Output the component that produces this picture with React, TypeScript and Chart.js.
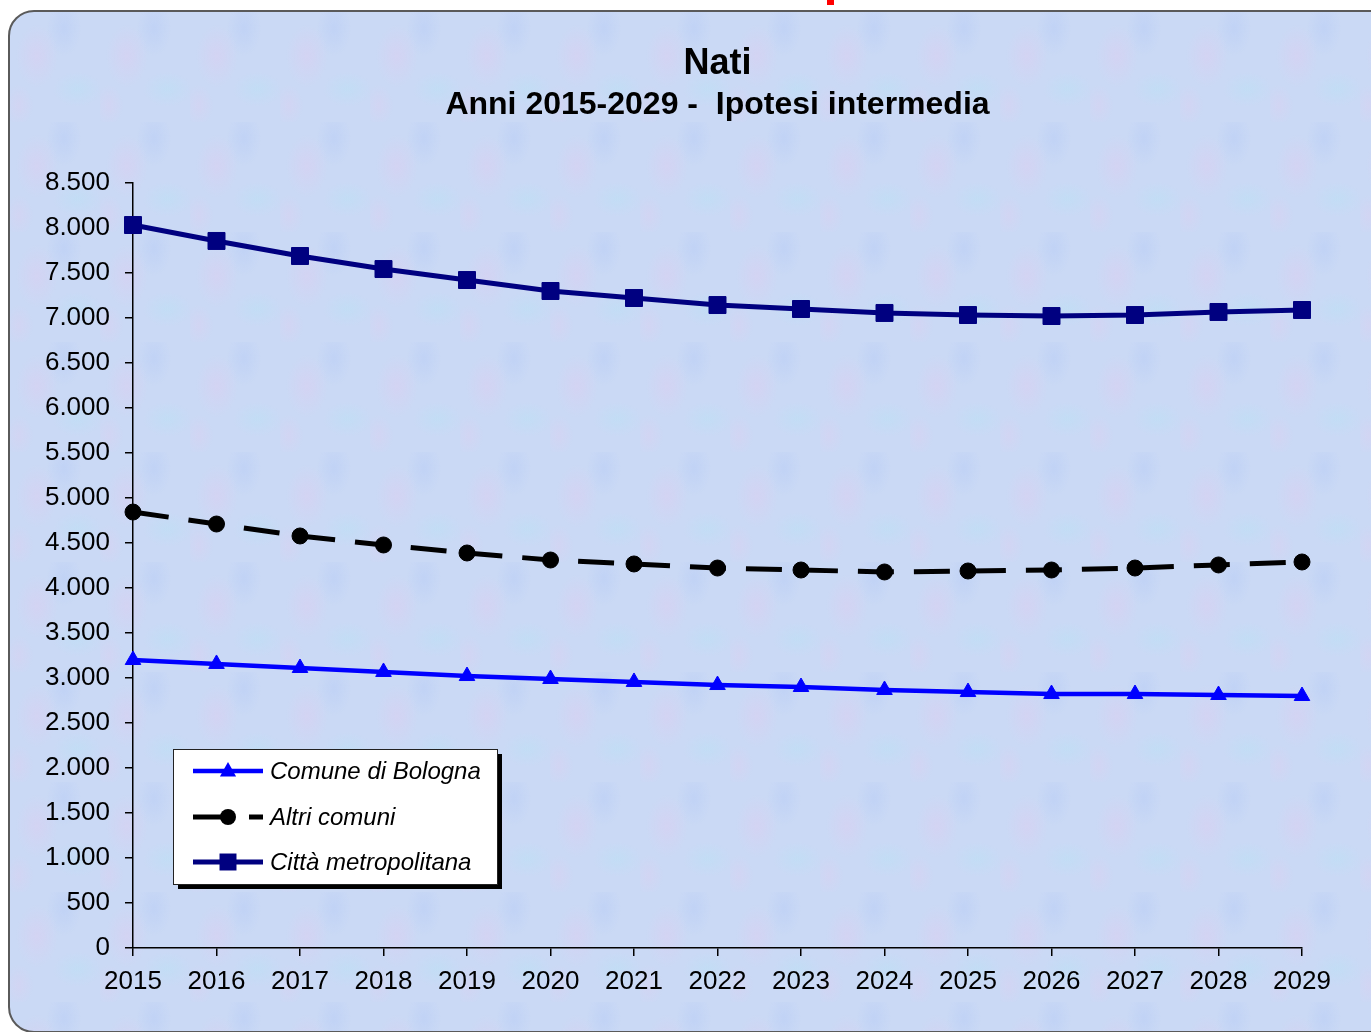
import React, { useEffect, useRef } from "react";
import { Chart, registerables } from "chart.js";

Chart.register(...registerables);

const years = ["2015", "2016", "2017", "2018", "2019", "2020", "2021", "2022", "2023", "2024", "2025", "2026", "2027", "2028", "2029"];
const bologna = [3200, 3156, 3111, 3067, 3022, 2989, 2956, 2922, 2900, 2867, 2844, 2822, 2822, 2811, 2800];
const altriComuni = [4844, 4711, 4578, 4478, 4389, 4311, 4267, 4222, 4200, 4178, 4189, 4200, 4222, 4256, 4289];
const cittaMetropolitana = [8033, 7856, 7689, 7544, 7422, 7300, 7222, 7144, 7100, 7056, 7033, 7022, 7033, 7067, 7089];
const seriesLabels = ["Comune di Bologna", "Altri comuni", "Città metropolitana"];
const titleText = "Nati";
const subtitleText = "Anni 2015-2029 -  Ipotesi intermedia";

const FONT = '"Liberation Sans", Arial, Helvetica, sans-serif';

function fmt(v: number): string {
  return String(Math.round(v)).replace(/\B(?=(\d{3})+(?!\d))/g, ".");
}

const legendPlugin = {
  id: "boxLegend",
  afterDraw(chart: any) {
    const ctx = chart.ctx;
    const x0 = 173, y0 = 749, w = 324, h = 135;
    ctx.save();
    ctx.fillStyle = "#000";
    ctx.fillRect(x0 + 5, y0 + 5, w, h);
    ctx.fillStyle = "#fff";
    ctx.fillRect(x0, y0, w, h);
    ctx.strokeStyle = "#222";
    ctx.lineWidth = 1;
    ctx.strokeRect(x0 + 0.5, y0 + 0.5, w, h);
    const rows = [771, 817, 862];
    chart.data.datasets.forEach((ds: any, i: number) => {
      const y = rows[i];
      ctx.save();
      ctx.strokeStyle = ds.borderColor;
      ctx.lineWidth = ds.borderWidth;
      ctx.setLineDash(ds.borderDash || []);
      ctx.beginPath();
      ctx.moveTo(193, y);
      ctx.lineTo(263, y);
      ctx.stroke();
      ctx.restore();
      ctx.save();
      ctx.fillStyle = ds.pointBackgroundColor;
      const r = ds.pointRadius;
      if (ds.pointStyle === "triangle") {
        ctx.beginPath();
        ctx.moveTo(228, y - r);
        ctx.lineTo(228 + r * 0.9, y + r * 0.6);
        ctx.lineTo(228 - r * 0.9, y + r * 0.6);
        ctx.closePath();
        ctx.fill();
      } else if (ds.pointStyle === "circle") {
        ctx.beginPath();
        ctx.arc(228, y, r, 0, Math.PI * 2);
        ctx.fill();
      } else {
        const s = r * Math.SQRT1_2;
        ctx.fillRect(228 - s, y - s, 2 * s, 2 * s);
      }
      ctx.restore();
      ctx.fillStyle = "#000";
      ctx.font = `italic 24px ${FONT}`;
      ctx.textBaseline = "middle";
      ctx.textAlign = "left";
      ctx.fillText(ds.label, 270, y + 1);
    });
    ctx.restore();
  },
};

export default function App() {
  const ref = useRef<HTMLCanvasElement | null>(null);

  useEffect(() => {
    if (!ref.current) return;
    const chart = new Chart(ref.current, {
      type: "line",
      data: {
        labels: years,
        datasets: [
          {
            label: seriesLabels[0],
            data: bologna,
            borderColor: "#0000FF",
            backgroundColor: "#0000FF",
            pointBackgroundColor: "#0000FF",
            pointBorderColor: "#0000FF",
            borderWidth: 4.5,
            pointStyle: "triangle",
            pointRadius: 9,
            pointBorderWidth: 1,
            tension: 0,
            clip: false,
          } as any,
          {
            label: seriesLabels[1],
            data: altriComuni,
            borderColor: "#000000",
            backgroundColor: "#000000",
            pointBackgroundColor: "#000000",
            pointBorderColor: "#000000",
            borderWidth: 5,
            borderDash: [36, 20],
            pointStyle: "circle",
            pointRadius: 8,
            pointBorderWidth: 1,
            tension: 0,
            clip: false,
          } as any,
          {
            label: seriesLabels[2],
            data: cittaMetropolitana,
            borderColor: "#000080",
            backgroundColor: "#000080",
            pointBackgroundColor: "#000080",
            pointBorderColor: "#000080",
            borderWidth: 5,
            pointStyle: "rect",
            pointRadius: 12,
            pointBorderWidth: 1,
            tension: 0,
            clip: false,
          } as any,
        ],
      },
      options: {
        animation: false,
        responsive: false,
        maintainAspectRatio: false,
        layout: { padding: { left: 0, right: 69, top: 0, bottom: 0 } },
        plugins: {
          legend: { display: false },
          tooltip: { enabled: false },
          title: {
            display: true,
            text: titleText,
            fullSize: false,
            color: "#000",
            font: { family: FONT, size: 36, weight: "bold", lineHeight: 1.2 },
            padding: { top: 42.4, bottom: 0 },
          },
          subtitle: {
            display: true,
            text: subtitleText,
            fullSize: false,
            color: "#000",
            font: { family: FONT, size: 32, weight: "bold", lineHeight: 1.2 },
            padding: { top: 0, bottom: 59 },
          },
        },
        scales: {
          x: {
            type: "category",
            offset: false,
            border: { display: true, color: "#000", width: 1.5 },
            grid: { display: true, drawOnChartArea: false, drawTicks: true, tickLength: 8, color: "#000", lineWidth: 1.5, offset: false },
            ticks: { color: "#000", font: { family: FONT, size: 26 }, padding: 10, autoSkip: false, maxRotation: 0 },
            afterFit: (s: any) => { s.height = 84; },
          },
          y: {
            min: 0,
            max: 8500,
            border: { display: true, color: "#000", width: 1.5 },
            grid: { display: true, drawOnChartArea: false, drawTicks: true, tickLength: 8, color: "#000", lineWidth: 1.5 },
            ticks: { stepSize: 500, color: "#000", font: { family: FONT, size: 26 }, padding: 15, callback: (v: any) => fmt(Number(v)) },
            afterFit: (s: any) => { s.width = 133; },
          },
        },
      },
      plugins: [legendPlugin],
    });
    return () => chart.destroy();
  }, []);

  const texture =
    "radial-gradient(ellipse 30px 45px at 30% 40%, rgba(228,200,238,0.35), transparent 70%)," +
    "radial-gradient(ellipse 35px 25px at 75% 70%, rgba(180,228,245,0.35), transparent 70%)," +
    "radial-gradient(ellipse 25px 40px at 60% 15%, rgba(175,198,245,0.35), transparent 70%)," +
    "radial-gradient(ellipse 20px 30px at 10% 85%, rgba(225,205,240,0.35), transparent 70%)";

  return (
    <div style={{ position: "fixed", left: 0, top: 0, width: 1371, height: 1032, overflow: "hidden", background: "#fff" }}>
      <div style={{ position: "absolute", left: 827, top: 0, width: 7, height: 5, background: "#ff0000" }} />
      <div
        style={{
          position: "absolute",
          left: 8,
          top: 10,
          width: 1400,
          height: 1019,
          border: "2px solid #5a5a5a",
          borderRadius: 26,
          backgroundColor: "#cad9f5",
          backgroundImage: texture,
          backgroundSize: "90px 110px",
        }}
      />
      <canvas ref={ref} width={1371} height={1032} style={{ position: "absolute", left: 0, top: 0, width: 1371, height: 1032 }} />
    </div>
  );
}
